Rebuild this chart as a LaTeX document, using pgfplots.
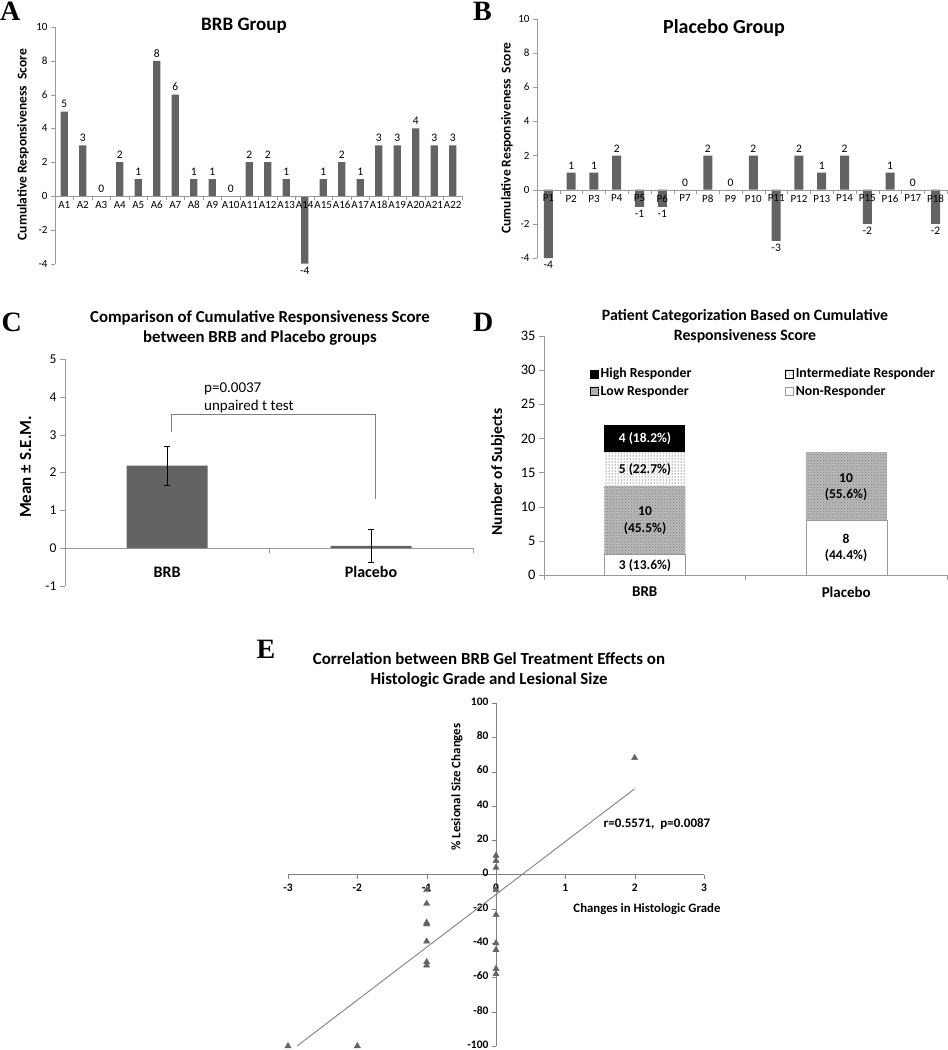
\documentclass[border=0pt]{standalone}
\usepackage{pgfplots}
\pgfplotsset{compat=1.18}
\usepackage{fontspec}
\setmainfont{Carlito}
\newfontfamily\timesb{Liberation Serif}
\usetikzlibrary{patterns}
\definecolor{bargray}{HTML}{636363}
\definecolor{axgray}{HTML}{9A9A9A}
\definecolor{axdark}{HTML}{808080}
\definecolor{lowgray}{HTML}{B8B8B8}
\newcommand{\fs}[1]{\fontsize{#1}{#1}\selectfont}
\pgfplotsset{
  /pgf/number format/assume math mode=true,
  hide obscured x ticks=false, hide obscured y ticks=false,
}
\begin{document}
\begin{tikzpicture}
\useasboundingbox (0,0) rectangle (948pt,-1050pt);
% ---------------- panel letters
\node[anchor=base west, inner sep=0, font=\timesb\bfseries\fs{28}] at (0pt,-20.7pt) {A};
\node[anchor=base west, inner sep=0, font=\timesb\bfseries\fs{28}] at (473pt,-20.7pt) {B};
\node[anchor=base west, inner sep=0, font=\timesb\bfseries\fs{28}] at (1.5pt,-331.7pt) {C};
\node[anchor=base west, inner sep=0, font=\timesb\bfseries\fs{28}] at (473pt,-331.7pt) {D};
\node[anchor=base west, inner sep=0, font=\timesb\bfseries\fs{28}] at (256.5pt,-658.3pt) {E};

% ---------------- Panel A
\begin{axis}[
  at={(55pt,-263.6pt)}, anchor=south west,
  scale only axis, width=407pt, height=236.6pt,
  xmin=0.5, xmax=22.5, ymin=-4, ymax=10,
  axis x line*=middle, axis y line*=left, axis on top,
  axis line style={axgray},
  tick style={axgray}, tick align=outside,
  ytick={-4,-2,0,2,4,6,8,10},
  xtick={1,...,22},
  xticklabels={A1,A2,A3,A4,A5,A6,A7,A8,A9,A10,A11,A12,A13,A14,A15,A16,A17,A18,A19,A20,A21,A22},
  major x tick style={draw=none},
  minor xtick={0.5,1.5,...,22.5},
  minor tick length=4pt, major tick length=4pt,
  tick label style={font=\fs{11}},
  xticklabel style={inner sep=1pt},
  ybar, bar width=7.3pt,
  nodes near coords, nodes near coords align=vertical,
  every node near coord/.append style={font=\fs{11.5}, text=black},
]
\addplot[fill=bargray, draw=none] coordinates {
(1,5) (2,3) (3,0) (4,2) (5,1) (6,8) (7,6) (8,1) (9,1) (10,0) (11,2)
(12,2) (13,1) (14,-4) (15,1) (16,2) (17,1) (18,3) (19,3) (20,4) (21,3) (22,3)};
\end{axis}
\node[anchor=base, font=\bfseries\fs{19}] at (244pt,-30.7pt) {BRB Group};
\node[rotate=90, font=\bfseries\fs{13.5}] at (23pt,-144.7pt) {Cumulative Responsiveness\ \ Score};

% ---------------- Panel B
\begin{axis}[
  at={(537pt,-258pt)}, anchor=south west,
  scale only axis, width=410pt, height=239pt,
  xmin=0.5, xmax=18.5, ymin=-4, ymax=10,
  axis x line*=middle, axis y line*=left, axis on top,
  axis line style={axgray},
  tick style={axgray}, tick align=outside,
  ytick={-4,-2,0,2,4,6,8,10},
  xtick={1,...,18},
  xticklabels={P1,P2,P3,P4,P5,P6,P7,P8,P9,P10,P11,P12,P13,P14,P15,P16,P17,P18},
  major x tick style={draw=none},
  minor xtick={0.5,1.5,...,18.5},
  minor tick length=4pt, major tick length=4pt,
  tick label style={font=\fs{11}},
  xticklabel style={inner sep=1pt},
  ybar, bar width=9pt,
  nodes near coords, nodes near coords align=vertical,
  every node near coord/.append style={font=\fs{11.5}, text=black},
]
\addplot[fill=bargray, draw=none] coordinates {
(1,-4) (2,1) (3,1) (4,2) (5,-1) (6,-1) (7,0) (8,2) (9,0) (10,2) (11,-3)
(12,2) (13,1) (14,2) (15,-2) (16,1) (17,0) (18,-2)};
\end{axis}
\node[anchor=base, font=\bfseries\fs{20}] at (724pt,-33.3pt) {Placebo Group};
\node[rotate=90, font=\bfseries\fs{13.5}] at (507pt,-138pt) {Cumulative Responsiveness\ \ Score};

% ---------------- Panel C
\begin{axis}[
  at={(65pt,-586pt)}, anchor=south west,
  scale only axis, width=408pt, height=227pt,
  xmin=0.5, xmax=2.5, ymin=-1, ymax=5,
  axis x line*=middle, axis y line*=left,
  axis line style={axgray},
  tick style={axgray}, tick align=outside,
  ytick={-1,0,1,2,3,4,5},
  xtick={1,2}, xticklabels={BRB,Placebo},
  major x tick style={draw=none},
  minor xtick={0.5,1.5,2.5},
  minor tick length=5pt, major tick length=5pt,
  yticklabel style={font=\fs{13.5}},
  xticklabel style={font=\bfseries\fs{16}, yshift=-10pt},
  ybar, bar width=81pt,
]
\addplot[fill=bargray, draw=none,
  error bars/.cd, y dir=both, y explicit,
  error bar style={black, line width=0.7pt},
  error mark options={rotate=90, mark size=3pt, black, line width=0.7pt}]
  coordinates {(1,2.18) +- (0,0.51) (2,0.06) +- (0,0.43)};
\draw[axdark, line width=0.7pt] (axis cs:1.02,3.07) -- (axis cs:1.02,3.55) -- (axis cs:2.02,3.55) -- (axis cs:2.02,1.3);
\end{axis}
\node[anchor=base, font=\bfseries\fs{16.8}] at (260pt,-322.7pt) {Comparison of Cumulative Responsiveness Score};
\node[anchor=base, font=\bfseries\fs{16.8}] at (260pt,-342.7pt) {between BRB and Placebo groups};
\node[anchor=base west, font=\fs{15}, inner sep=0] at (204pt,-392.7pt) {p=0.0037};
\node[anchor=base west, font=\fs{15}, inner sep=0] at (204pt,-410.5pt) {unpaired t test};
\node[rotate=90, font=\bfseries\fs{17}] at (25.5pt,-467pt) {Mean ± S.E.M.};

% ---------------- Panel D
\begin{axis}[
  at={(544pt,-575pt)}, anchor=south west,
  scale only axis, width=403pt, height=239pt,
  xmin=0.5, xmax=2.5, ymin=0, ymax=35,
  axis x line*=bottom, axis y line*=left,
  axis line style={axgray},
  tick style={axgray}, tick align=outside,
  ytick={0,5,...,35},
  xtick={1,2}, xticklabels={BRB,Placebo},
  major x tick style={draw=none},
  minor xtick={0.5,1.5,2.5},
  minor tick length=5pt, major tick length=5pt,
  yticklabel style={font=\fs{14.5}},
  xticklabel style={font=\bfseries\fs{15}, yshift=-3pt},
  ybar stacked, bar width=81pt,
  legend columns=2, reverse legend, legend cell align=left,
  legend image code/.code={\draw[#1] (0pt,-4pt) rectangle (8pt,4pt);},
  legend style={at={(rel axis cs:0.107,0.806)}, anchor=west, draw=none, fill=none,
     font=\bfseries\fs{13.8}, row sep=2pt, nodes={inner xsep=2pt},
     /tikz/every even column/.append style={column sep=92pt}},
]
\addplot[fill=white, draw=axgray] coordinates {(1,3) (2,8)};
\addlegendentry{Non-Responder}
\addplot[fill=lowgray, draw=none, postaction={pattern=crosshatch dots, pattern color=gray}] coordinates {(1,10) (2,10)};
\addlegendentry{Low Responder}
\addplot[fill=white, draw=none, postaction={pattern=dots}] coordinates {(1,5) (2,0)};
\addlegendentry{Intermediate Responder}
\addplot[fill=black, draw=none] coordinates {(1,4) (2,0)};
\addlegendentry{High Responder}
\end{axis}
\node[font=\bfseries\fs{13.5}, text=white] at (645pt,-438.4pt) {4 (18.2\%)};
\node[font=\bfseries\fs{13.5}] at (645pt,-469.1pt) {5 (22.7\%)};
\node[font=\bfseries\fontsize{13.5}{16.5}\selectfont, align=center] at (645pt,-520.4pt) {10\\(45.5\%)};
\node[font=\bfseries\fs{13.5}] at (645pt,-565.7pt) {3 (13.6\%)};
\node[font=\bfseries\fontsize{13.5}{16.5}\selectfont, align=center] at (846pt,-486.9pt) {10\\(55.6\%)};
\node[font=\bfseries\fontsize{13.5}{16.5}\selectfont, align=center] at (846pt,-548pt) {8\\(44.4\%)};
\node[anchor=base, font=\bfseries\fs{15.8}] at (745pt,-320.7pt) {Patient Categorization Based on Cumulative};
\node[anchor=base, font=\bfseries\fs{15.8}] at (745pt,-340pt) {Responsiveness Score};
\node[rotate=90, font=\bfseries\fs{15.5}] at (498pt,-472pt) {Number of Subjects};

% ---------------- Panel E
\begin{axis}[
  at={(288pt,-1046pt)}, anchor=south west,
  scale only axis, width=416pt, height=343pt,
  xmin=-3, xmax=3, ymin=-100, ymax=100,
  axis x line*=middle, axis y line*=middle,
  axis line style={axdark},
  tick style={axdark}, tick align=outside,
  major tick length=4pt,
  xtick={-3,-2,...,3}, ytick={-100,-80,...,100},
  tick label style={font=\bfseries\fs{11.5}},
  xticklabel style={yshift=-2pt},
  yticklabel style={yshift=1.5pt},
  clip=false,
]
\addplot[only marks, mark=triangle*, mark size=3.6pt, color=bargray] coordinates {
(2,68) (0,11) (0,8) (0,4) (0,-9) (0,-23.5) (0,-40) (0,-44) (0,-55) (0,-58)
(-1,-9) (-1,-17) (-1,-28) (-1,-29) (-1,-39) (-1,-51) (-1,-53) (-3,-100) (-2,-100)};
\addplot[axdark, line width=0.9pt, no marks] coordinates {(-2.87,-100) (2,50)};
\end{axis}
\node[anchor=base, font=\bfseries\fs{16.9}] at (489pt,-664pt) {Correlation between BRB Gel Treatment Effects on};
\node[anchor=base, font=\bfseries\fs{16.9}] at (489pt,-684.5pt) {Histologic Grade and Lesional Size};
\node[font=\bfseries\fs{12.8}] at (647pt,-909pt) {Changes in Histologic Grade};
\node[rotate=90, font=\bfseries\fs{12.9}] at (457pt,-787pt) {\% Lesional Size Changes};
\node[font=\bfseries\fs{13}] at (657pt,-824pt) {r=0.5571,\ \ p=0.0087};
\end{tikzpicture}
\end{document}
